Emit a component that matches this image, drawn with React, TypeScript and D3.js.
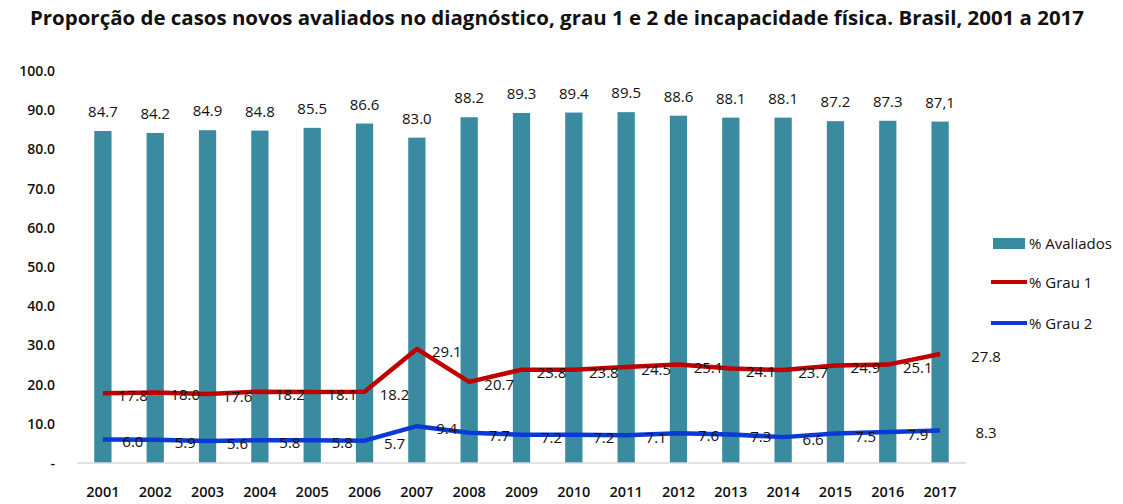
import React, { useEffect, useRef } from 'react';
import * as d3 from 'd3';

const years = ['2001', '2002', '2003', '2004', '2005', '2006', '2007', '2008', '2009', '2010', '2011', '2012', '2013', '2014', '2015', '2016', '2017'];
const avaliados = [84.7, 84.2, 84.9, 84.8, 85.5, 86.6, 83.0, 88.2, 89.3, 89.4, 89.5, 88.6, 88.1, 88.1, 87.2, 87.3, 87.1];
const avaliadosLabels = ['84.7', '84.2', '84.9', '84.8', '85.5', '86.6', '83.0', '88.2', '89.3', '89.4', '89.5', '88.6', '88.1', '88.1', '87.2', '87.3', '87,1'];
const grau1 = [17.8, 18.0, 17.6, 18.2, 18.1, 18.2, 29.1, 20.7, 23.8, 23.8, 24.5, 25.1, 24.1, 23.7, 24.9, 25.1, 27.8];
const grau2 = [6.0, 5.9, 5.6, 5.8, 5.8, 5.7, 9.4, 7.7, 7.2, 7.2, 7.1, 7.6, 7.3, 6.6, 7.5, 7.9, 8.3];
const yTicks = [0, 10, 20, 30, 40, 50, 60, 70, 80, 90, 100];

const TITLE = 'Proporção de casos novos avaliados no diagnóstico, grau 1 e 2 de incapacidade física. Brasil, 2001 a 2017';
const FONT = '"Open Sans", "Noto Sans", sans-serif';

const App = () => {
  const svgRef = useRef<SVGSVGElement>(null);

  useEffect(() => {
    document.body.style.margin = '0';
    const svg = d3.select(svgRef.current);
    svg.selectAll('*').remove();

    const x = d3.scaleBand().domain(years).range([77, 966]).paddingInner(0.67).paddingOuter(0.33);
    const y = d3.scaleLinear().domain([0, 100]).range([463, 71]);
    const cx = (i: number) => (x(years[i]) as number) + x.bandwidth() / 2;

    svg.append('text')
      .attr('x', 557).attr('y', 25)
      .attr('text-anchor', 'middle')
      .attr('font-family', FONT).attr('font-weight', 'bold').attr('font-size', 19.5)
      .attr('textLength', 1054).attr('lengthAdjust', 'spacingAndGlyphs')
      .attr('fill', '#111')
      .text(TITLE);

    // y axis labels
    svg.append('g').selectAll('text').data(yTicks).enter().append('text')
      .attr('x', 55).attr('y', (d) => y(d) + 5)
      .attr('text-anchor', 'end')
      .attr('font-family', FONT).attr('font-weight', 600).attr('font-size', 14)
      .attr('fill', '#111')
      .text((d) => (d === 0 ? '-' : d.toFixed(1)));

    // bars
    svg.append('g').selectAll('rect').data(avaliados).enter().append('rect')
      .attr('x', (d, i) => x(years[i]) as number)
      .attr('y', (d) => y(d))
      .attr('width', x.bandwidth())
      .attr('height', (d) => y(0) - y(d))
      .attr('fill', '#3a8ba0');

    svg.append('g').selectAll('text').data(avaliados).enter().append('text')
      .attr('x', (d, i) => cx(i)).attr('y', (d) => y(d) - 14)
      .attr('text-anchor', 'middle')
      .attr('font-family', FONT).attr('font-size', 15).attr('fill', '#111')
      .text((d, i) => avaliadosLabels[i]);

    // baseline
    svg.append('line')
      .attr('x1', 77).attr('x2', 966).attr('y1', y(0)).attr('y2', y(0))
      .attr('stroke', '#d9d9d9').attr('stroke-width', 1.5);

    // x labels
    svg.append('g').selectAll('text').data(years).enter().append('text')
      .attr('x', (d, i) => cx(i)).attr('y', 497)
      .attr('text-anchor', 'middle')
      .attr('font-family', FONT).attr('font-weight', 600).attr('font-size', 14.5)
      .attr('fill', '#111')
      .text((d) => d);

    const line = d3.line<number>().x((d, i) => cx(i)).y((d) => y(d));

    const series = [
      { values: grau1, color: '#c00000' },
      { values: grau2, color: '#0a3ad6' },
    ];

    series.forEach((s) => {
      svg.append('path').datum(s.values)
        .attr('fill', 'none').attr('stroke', s.color).attr('stroke-width', 4.5)
        .attr('stroke-linejoin', 'round')
        .attr('d', line);

      svg.append('g').selectAll('text').data(s.values).enter().append('text')
        .attr('x', (d, i) => cx(i) + (i === s.values.length - 1 ? 46 : 30))
        .attr('y', (d) => y(d) + 8)
        .attr('text-anchor', 'middle')
        .attr('font-family', FONT).attr('font-size', 15).attr('fill', '#111')
        .text((d) => d.toFixed(1));
    });

    // legend
    const legend = svg.append('g').attr('font-family', FONT).attr('font-size', 15).attr('fill', '#111');
    legend.append('rect').attr('x', 993).attr('y', 238).attr('width', 32).attr('height', 11).attr('fill', '#3a8ba0');
    legend.append('text').attr('x', 1029).attr('y', 249).text('% Avaliados');
    legend.append('line').attr('x1', 991).attr('x2', 1027).attr('y1', 282).attr('y2', 282)
      .attr('stroke', '#c00000').attr('stroke-width', 4);
    legend.append('text').attr('x', 1029).attr('y', 288).text('% Grau 1');
    legend.append('line').attr('x1', 991).attr('x2', 1027).attr('y1', 323).attr('y2', 323)
      .attr('stroke', '#0a3ad6').attr('stroke-width', 4);
    legend.append('text').attr('x', 1029).attr('y', 329).text('% Grau 2');
  }, []);

  return <svg ref={svgRef} width={1123} height={504} style={{ display: 'block', background: '#fff' }} />;
};

export default App;
